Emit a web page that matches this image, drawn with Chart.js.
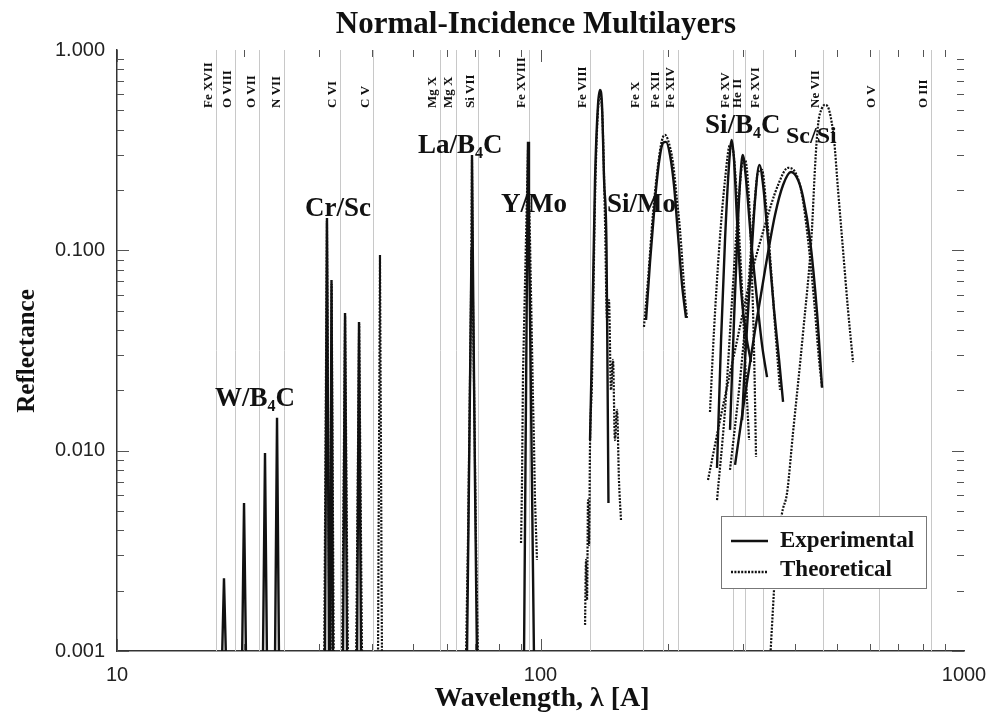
<!DOCTYPE html>
<html>
<head>
<meta charset="utf-8">
<script src="https://cdn.jsdelivr.net/npm/chart.js@4.4.1/dist/chart.umd.min.js"></script>
<style>
  html, body { margin: 0; padding: 0; background: #fff; }
  #wrap { position: relative; width: 991px; height: 713px; }
</style>
</head>
<body>
<div id="wrap"><canvas id="chart"></canvas></div>
<script>
// [wavelength (A), reflectance]
// spikes are chained below the axis floor (0.0009) so the joins get clipped
const wb4cExp = [
  [17.70, 0.0009], [17.89, 0.00231], [18.09, 0.0009],
  [19.74, 0.0009], [19.95, 0.00548], [20.17, 0.0009],
  [22.11, 0.0009], [22.36, 0.00974], [22.60, 0.0009],
  [23.61, 0.0009], [23.87, 0.0146], [24.13, 0.0009]
];
const crscExp = [
  [30.98, 0.0009], [31.32, 0.145], [31.67, 0.0009],
  [31.84, 0.0009], [32.10, 0.0711], [32.36, 0.0009],
  [34.17, 0.0009], [34.55, 0.0487], [34.93, 0.0009],
  [36.88, 0.0009], [37.28, 0.0439], [37.69, 0.0009]
];
const crscTheo = [
  [30.85, 0.0009], [31.31, 0.140], [31.75, 0.0009],
  [31.95, 0.0009], [32.12, 0.068], [32.50, 0.0009],
  [34.00, 0.0009], [34.56, 0.047], [35.10, 0.0009],
  [36.70, 0.0009], [37.30, 0.043], [37.90, 0.0009],
  [41.33, 0.0009], [41.78, 0.0948], [42.24, 0.0009]
];
const lab4cExp = [[67.04, 0.0009], [67.78, 0.00714], [68.71, 0.1005], [68.90, 0.299], [69.20, 0.1005], [70.03, 0.00714], [70.80, 0.0009]];
const lab4cTheo = [[66.68, 0.0009], [67.42, 0.00358], [68.53, 0.0565], [68.90, 0.283], [69.26, 0.0565], [70.42, 0.00358], [71.18, 0.0009]];
const ymoExp = [[91.41, 0.0009], [92.41, 0.0179], [93.07, 0.1264], [93.43, 0.348], [93.93, 0.1264], [94.97, 0.0179], [96.54, 0.0009]];
const ymoTheo = [[89.95, 0.00346], [90.4, 0.0065], [90.93, 0.0244], [92.41, 0.1127], [93.43, 0.317], [94.45, 0.1127], [96.0, 0.0179], [96.5, 0.011], [97.05, 0.00567], [98.1, 0.00285]];
const mosiExp = [[130.9, 0.0113], [132.3, 0.0329], [134.5, 0.2247], [136.7, 0.532], [138.2, 0.632], [139.7, 0.532], [141.3, 0.2247], [143.2, 0.1005], [144.0, 0.0225], [144.7, 0.00548]];
const mosiTheo = [
  [127.4, 0.00135], [128.1, 0.00285], [128.8, 0.0018], [129.5, 0.00567], [130.2, 0.00338],
  [130.9, 0.0107], [132.3, 0.0225], [134.5, 0.1785], [136.3, 0.448], [138.2, 0.597],
  [140.1, 0.448], [142.0, 0.1418], [143.6, 0.0449], [145.1, 0.0565], [146.7, 0.0201],
  [148.3, 0.0284], [149.9, 0.0113], [151.6, 0.016], [153.2, 0.00714], [154.9, 0.00451]
];
const simoExp = [[177.5, 0.0449], [181.4, 0.0875], [186.4, 0.1785], [190.5, 0.276], [194.7, 0.344], [197.9, 0.348], [202.2, 0.299], [206.6, 0.212], [211.2, 0.1194], [215.9, 0.0672], [220.6, 0.046]];
const simoTheo = [[175.5, 0.0415], [179.4, 0.0711], [184.4, 0.1537], [189.5, 0.267], [193.6, 0.3557], [196.8, 0.377], [200.0, 0.3557], [205.5, 0.273], [210.0, 0.1785], [213.5, 0.1264], [219.3, 0.0585], [221.8, 0.046]];
const sib4cExp1 = [[261.1, 0.0082], [266.9, 0.0357], [272.7, 0.1127], [278.7, 0.267], [282.8, 0.3557], [286.4, 0.283], [291.1, 0.1418], [297.5, 0.0634], [305.8, 0.0378], [314.2, 0.0277]];
const sib4cExp2 = [[280.2, 0.0127], [286.4, 0.0449], [292.7, 0.1418], [296.7, 0.238], [300.3, 0.299], [305.8, 0.2247], [314.2, 0.1127], [324.6, 0.0565], [333.5, 0.0337], [342.7, 0.0233]];
const sib4cExp3 = [[299.2, 0.0142], [304.1, 0.0284], [312.5, 0.0711], [321.1, 0.1785], [328.7, 0.267], [335.4, 0.212], [344.6, 0.1127], [356.0, 0.0504], [365.9, 0.0284], [373.9, 0.0175]];
const sib4cTheo1 = [[251.3, 0.0156], [256.9, 0.04], [264.0, 0.1005], [272.7, 0.2247], [280.2, 0.336], [284.8, 0.317], [291.1, 0.1785], [299.2, 0.0634], [305.8, 0.0225], [310.8, 0.0113]];
const sib4cTheo2 = [[261.1, 0.00567], [272.7, 0.016], [283.3, 0.0565], [292.7, 0.159], [299.2, 0.267], [304.1, 0.283], [310.8, 0.1785], [314.2, 0.1005], [319.3, 0.0318], [322.8, 0.0093]];
const sib4cTheo3 = [[280.2, 0.00801], [295.9, 0.0225], [309.1, 0.0634], [319.3, 0.159], [326.4, 0.246], [333.5, 0.252], [340.9, 0.1685], [350.3, 0.0798], [359.9, 0.0357], [367.8, 0.0201]];
const scsiExp = [[288.0, 0.00849], [304.1, 0.019], [321.1, 0.04], [339.0, 0.0798], [357.9, 0.1502], [373.9, 0.212], [390.5, 0.246], [405.6, 0.2247], [416.8, 0.1848], [433.0, 0.1127], [449.8, 0.0487], [462.2, 0.0206]];
const scsiTheo1 = [[248.6, 0.00714], [265.4, 0.0142], [288.0, 0.0318], [312.5, 0.0711], [339.0, 0.1339], [363.9, 0.212], [384.2, 0.258], [399.1, 0.246], [414.5, 0.189], [428.3, 0.1127], [442.5, 0.0565], [454.7, 0.0284], [462.2, 0.0208]];
const scsiTheo2 = [
  [348.4, 0.0009], [359.9, 0.00285], [371.9, 0.00489], [382.1, 0.00615], [394.7, 0.0123],
  [416.8, 0.0387], [437.0, 0.1222], [444.9, 0.261], [452.2, 0.423], [462.2, 0.514],
  [469.8, 0.532], [480.1, 0.502], [493.3, 0.3557], [504.2, 0.200], [518.0, 0.1005],
  [532.3, 0.0504], [547.0, 0.0277]
];

// emission lines marked by the grey verticals
const lineNames = ['Fe XVII', 'O VIII', 'O VII', 'N VII', 'C VI', 'C V', 'Mg X', 'Mg X', 'Si VII', 'Fe XVIII',
  'Fe VIII', 'Fe X', 'Fe XII', 'Fe XIV', 'Fe XV', 'He II', 'Fe XVI', 'Ne VII', 'O V', 'O III'];
const lineWaves = [17.1, 19.0, 21.6, 24.8, 33.7, 40.3, 57.9, 63.3, 71.0, 93.9,
  131.0, 174.5, 195.1, 211.3, 284.2, 303.8, 335.4, 465.2, 629.7, 833.7];

const curveNames = ['W/B4C', 'Cr/Sc', 'La/B4C', 'Y/Mo', 'Si/Mo', 'Si/B4C', 'Sc/Si'];
const seriesNames = ['Experimental', 'Theoretical'];
const xTickValues = [10, 100, 1000];
const yTickValues = [0.001, 0.01, 0.1, 1];

const serif = '"Liberation Serif", "Times New Roman", serif';
const sans = '"Liberation Sans", Arial, sans-serif';
const ink = '#111';

const spikes = [wb4cExp, crscExp, crscTheo, lab4cExp, lab4cTheo, ymoExp, ymoTheo];
const expCurves = [wb4cExp, crscExp, lab4cExp, ymoExp, mosiExp, simoExp, sib4cExp1, sib4cExp2, sib4cExp3, scsiExp];
const theoCurves = [crscTheo, lab4cTheo, ymoTheo, mosiTheo, simoTheo, sib4cTheo1, sib4cTheo2, sib4cTheo3, scsiTheo1, scsiTheo2];

function makeSet(arr, dotted) {
  return {
    label: dotted ? seriesNames[1] : seriesNames[0],
    data: arr.map(p => ({ x: p[0], y: p[1] })),
    borderColor: ink,
    borderWidth: dotted ? 2.2 : 2.4,
    borderDash: dotted ? [2, 1.4] : [],
    pointRadius: 0,
    fill: false,
    tension: 0,
    cubicInterpolationMode: spikes.includes(arr) ? 'default' : 'monotone'
  };
}

// label anchors in pixels (left edge, baseline, font size)
const curveLabelPos = [[215, 406, 27], [305, 216, 27], [418, 153, 27], [501, 212, 27], [607, 212, 27], [705, 133, 27], [786, 143, 24]];

function drawChem(ctx, text, x, y, size) {
  let cx = x;
  for (const ch of text) {
    const sub = /\d/.test(ch);
    ctx.font = 'bold ' + (sub ? Math.round(size * 0.6) : size) + 'px ' + serif;
    ctx.fillText(ch, cx, sub ? y + size * 0.2 : y);
    cx += ctx.measureText(ch).width;
  }
}

function isDecade(v) {
  const l = Math.log10(v);
  return Math.abs(l - Math.round(l)) < 1e-6;
}

const decor = {
  id: 'decor',
  beforeDatasetsDraw(chart) {
    const { ctx, chartArea: a, scales: { x } } = chart;
    ctx.save();
    ctx.strokeStyle = '#c8c8c8';
    ctx.lineWidth = 1;
    lineWaves.forEach(w => {
      const px = Math.round(x.getPixelForValue(w)) + 0.5;
      ctx.beginPath();
      ctx.moveTo(px, a.top);
      ctx.lineTo(px, a.bottom);
      ctx.stroke();
    });
    ctx.fillStyle = ink;
    ctx.font = 'bold 13px ' + serif;
    ctx.textAlign = 'left';
    ctx.textBaseline = 'alphabetic';
    lineWaves.forEach((w, i) => {
      ctx.save();
      ctx.translate(x.getPixelForValue(w) - 4, 108);
      ctx.rotate(-Math.PI / 2);
      ctx.fillText(lineNames[i], 0, 0);
      ctx.restore();
    });
    curveNames.forEach((n, i) => {
      const p = curveLabelPos[i];
      drawChem(ctx, n, p[0], p[1], p[2]);
    });
    ctx.restore();
  },
  afterDatasetsDraw(chart) {
    const { ctx, chartArea: a, scales: { x, y } } = chart;
    ctx.save();
    // inward tick marks on all four sides
    ctx.strokeStyle = '#555';
    ctx.lineWidth = 1;
    for (let e = 1; e < 3; e++) {
      for (let m = 1; m < 10; m++) {
        const v = m * Math.pow(10, e);
        const px = Math.round(x.getPixelForValue(v)) + 0.5;
        const len = m === 1 ? 12 : 7;
        ctx.beginPath();
        ctx.moveTo(px, a.bottom); ctx.lineTo(px, a.bottom - len);
        ctx.moveTo(px, a.top); ctx.lineTo(px, a.top + len);
        ctx.stroke();
      }
    }
    for (let e = -3; e < 0; e++) {
      for (let m = 1; m < 10; m++) {
        const v = m * Math.pow(10, e);
        const py = Math.round(y.getPixelForValue(v)) + 0.5;
        const len = m === 1 ? 12 : 7;
        ctx.beginPath();
        ctx.moveTo(a.left, py); ctx.lineTo(a.left + len, py);
        ctx.moveTo(a.right, py); ctx.lineTo(a.right - len, py);
        ctx.stroke();
      }
    }
    // legend
    const lx = 721, ly = 516, lw = 205, lh = 72;
    ctx.fillStyle = '#fff';
    ctx.fillRect(lx, ly, lw, lh);
    ctx.strokeStyle = '#777';
    ctx.strokeRect(lx + 0.5, ly + 0.5, lw, lh);
    ctx.strokeStyle = ink;
    ctx.lineWidth = 2.4;
    ctx.beginPath(); ctx.moveTo(731, 541); ctx.lineTo(768, 541); ctx.stroke();
    ctx.setLineDash([2, 1.4]);
    ctx.beginPath(); ctx.moveTo(731, 572); ctx.lineTo(768, 572); ctx.stroke();
    ctx.setLineDash([]);
    ctx.fillStyle = ink;
    ctx.font = 'bold 23px ' + serif;
    ctx.textAlign = 'left';
    ctx.textBaseline = 'alphabetic';
    ctx.fillText(seriesNames[0], 780, 547);
    ctx.fillText(seriesNames[1], 780, 576);
    ctx.restore();
  },
  afterDraw(chart) {
    const { ctx, chartArea: a } = chart;
    ctx.save();
    ctx.fillStyle = ink;
    ctx.textAlign = 'center';
    ctx.textBaseline = 'alphabetic';
    ctx.font = 'bold 31px ' + serif;
    ctx.fillText('Normal-Incidence Multilayers', 536, 33);
    ctx.font = 'bold 28px ' + serif;
    ctx.fillText('Wavelength, \u03bb [A]', 542, 706);
    ctx.font = 'bold 25px ' + serif;
    ctx.translate(34, 351);
    ctx.rotate(-Math.PI / 2);
    ctx.fillText('Reflectance', 0, 0);
    ctx.restore();
  }
};

new Chart(document.getElementById('chart'), {
  type: 'line',
  data: {
    datasets: expCurves.map(d => makeSet(d, false)).concat(theoCurves.map(d => makeSet(d, true)))
  },
  options: {
    responsive: true,
    maintainAspectRatio: false,
    animation: false,
    layout: { padding: { top: 50, right: 27, left: 0, bottom: 0 } },
    plugins: { legend: { display: false }, tooltip: { enabled: false } },
    scales: {
      x: {
        type: 'logarithmic',
        min: 10,
        max: 1000,
        afterBuildTicks: s => { s.ticks = xTickValues.map(v => ({ value: v })); },
        afterFit: s => { s.height = 62; s.paddingLeft = 0; s.paddingRight = 0; },
        grid: { display: true, drawOnChartArea: false, drawTicks: false },
        border: { display: true, color: '#333', width: 1.5 },
        ticks: {
          autoSkip: false, maxRotation: 0, padding: 12,
          color: '#222', font: { family: sans, size: 20 },
          callback: v => isDecade(v) ? String(v) : ''
        }
      },
      y: {
        type: 'logarithmic',
        min: 0.001,
        max: 1,
        afterBuildTicks: s => { s.ticks = yTickValues.map(v => ({ value: v })); },
        afterFit: s => { s.width = 117; s.paddingTop = 0; s.paddingBottom = 0; },
        grid: { display: true, drawOnChartArea: false, drawTicks: false },
        border: { display: true, color: '#333', width: 1.5 },
        ticks: {
          autoSkip: false, padding: 12,
          color: '#222', font: { family: sans, size: 20 },
          callback: v => isDecade(v) ? Number(v).toFixed(3) : ''
        }
      }
    }
  },
  plugins: [decor]
});
</script>
</body>
</html>
